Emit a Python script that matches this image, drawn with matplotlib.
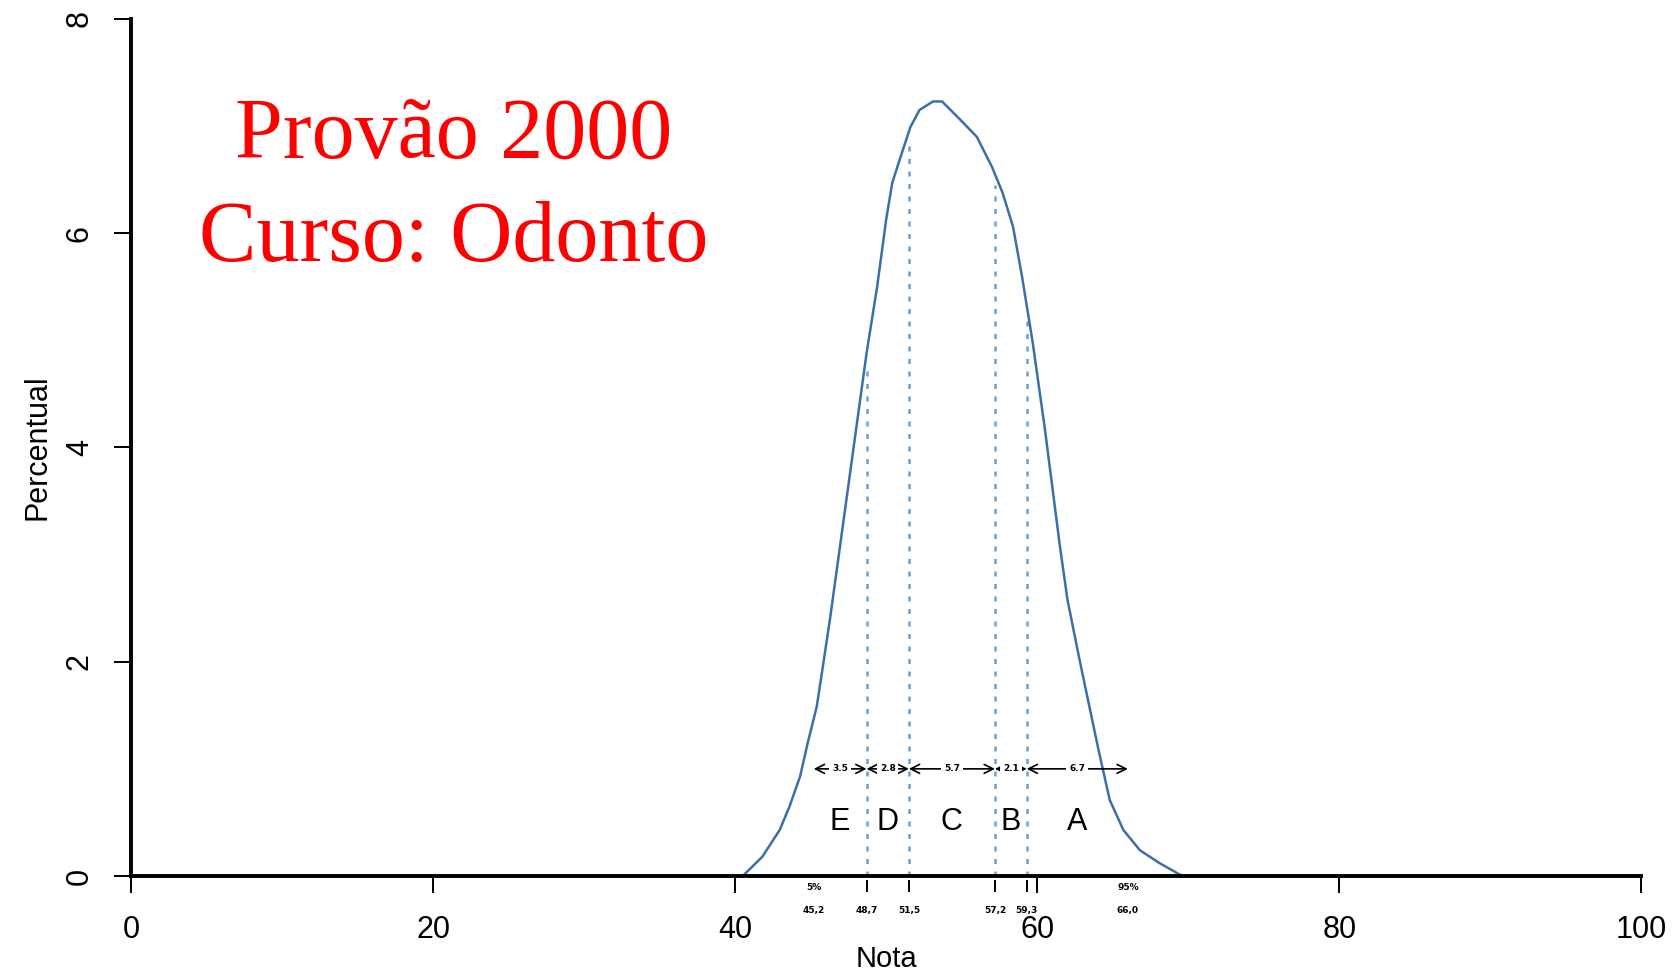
import numpy as np
import matplotlib.pyplot as plt

# distribution of grades
nota = [40.5, 41.8, 42.95, 43.6, 44.3, 44.8, 45.4, 45.8, 46.3, 47.5, 48.7, 49.4,
        50.0, 50.4, 50.9, 51.6, 52.2, 53.1, 53.7, 54.9, 56.0, 57.0, 57.7, 58.4,
        59.0, 59.7, 60.5, 61.5, 62.0, 62.8, 63.5, 64.1, 64.8, 65.7, 66.8, 68.1, 69.6]
percentual = [0.0, 0.18, 0.43, 0.65, 0.93, 1.24, 1.58, 1.95, 2.42, 3.65, 4.88, 5.50,
              6.13, 6.47, 6.69, 6.99, 7.15, 7.23, 7.23, 7.06, 6.90, 6.62, 6.38, 6.06,
              5.59, 4.98, 4.18, 3.08, 2.58, 2.02, 1.55, 1.15, 0.71, 0.43, 0.24, 0.12, 0.0]

# concept limits
cortes = [45.2, 48.7, 51.5, 57.2, 59.3, 66.0]
cortes_txt = ["45,2", "48,7", "51,5", "57,2", "59,3", "66,0"]
extremos_txt = ["5%", "95%"]
conceitos = ["E", "D", "C", "B", "A"]
larguras = ["3.5", "2.8", "5.7", "2.1", "6.7"]

fig = plt.figure(figsize=(16.8, 9.73), dpi=100)
ax = fig.add_axes([0.078, 0.0997, 0.899, 0.8808])

curve_col = "#3b6fa8"
dash_col = "#6a9fd8"

ax.plot(nota, percentual, color=curve_col, lw=1.8, zorder=3)

# dotted lines at the inner cuts, up to the curve
for c in cortes[1:-1]:
    top = np.interp(c, nota, percentual)
    ax.plot([c, c], [0, top - 0.1], color=dash_col, lw=1.8, ls=(0, (2, 3)), zorder=2)

# arrows with band widths
for i in range(len(conceitos)):
    a, b = cortes[i], cortes[i + 1]
    ax.annotate("", xy=(a, 1.0), xytext=(b, 1.0),
                arrowprops=dict(arrowstyle="<->", color="black", lw=1.2,
                                shrinkA=0, shrinkB=0, mutation_scale=16), zorder=4)
    ax.text((a + b) / 2, 1.0, larguras[i], fontsize=6.5, fontweight="bold",
            ha="center", va="center", zorder=5,
            bbox=dict(facecolor="white", edgecolor="none", pad=2))
    ax.text((a + b) / 2, 0.5, conceitos[i], fontsize=22, family="Liberation Sans",
            ha="center", va="center", zorder=5)

ax.set_xlim(0, 100)
ax.set_ylim(0, 8)
ax.set_xticks([0, 20, 40, 60, 80, 100])
ax.set_yticks([0, 2, 4, 6, 8])
for s in ["top", "right"]:
    ax.spines[s].set_visible(False)
for s in ["left", "bottom"]:
    ax.spines[s].set_linewidth(2.8)
    ax.spines[s].set_zorder(6)
ax.tick_params(axis="both", length=12, width=1.4, labelsize=22)
ax.tick_params(axis="x", pad=16)
ax.tick_params(axis="y", pad=14)
for lab in ax.get_yticklabels():
    lab.set_rotation(90)
    lab.set_va("center")
for lab in ax.get_xticklabels() + ax.get_yticklabels():
    lab.set_family("Liberation Sans")

# small ticks and labels under the axis for the cuts
trans = ax.get_xaxis_transform()
for i, c in enumerate(cortes):
    if i == 0 or i == len(cortes) - 1:
        ax.text(c, -0.014, extremos_txt[0 if i == 0 else 1], transform=trans,
                fontsize=6.5, fontweight="bold", ha="center", va="center", clip_on=False)
    else:
        ax.plot([c, c], [-0.006, -0.018], transform=trans, color="black", lw=1.4,
                clip_on=False)
    ax.text(c, -0.040, cortes_txt[i], transform=trans, fontsize=6.5, fontweight="bold",
            ha="center", va="center", clip_on=False)

ax.set_xlabel("Nota", fontsize=21, family="Liberation Sans", labelpad=0)
ax.set_ylabel("Percentual", fontsize=22, family="Liberation Sans", labelpad=9)

ax.text(0.2137, 0.838, "Provão 2000", transform=ax.transAxes, color="red",
        fontsize=62, family="Liberation Serif", ha="center", va="baseline")
ax.text(0.2137, 0.718, "Curso: Odonto", transform=ax.transAxes, color="red",
        fontsize=62, family="Liberation Serif", ha="center", va="baseline")

fig.savefig("out.png", dpi=100)
